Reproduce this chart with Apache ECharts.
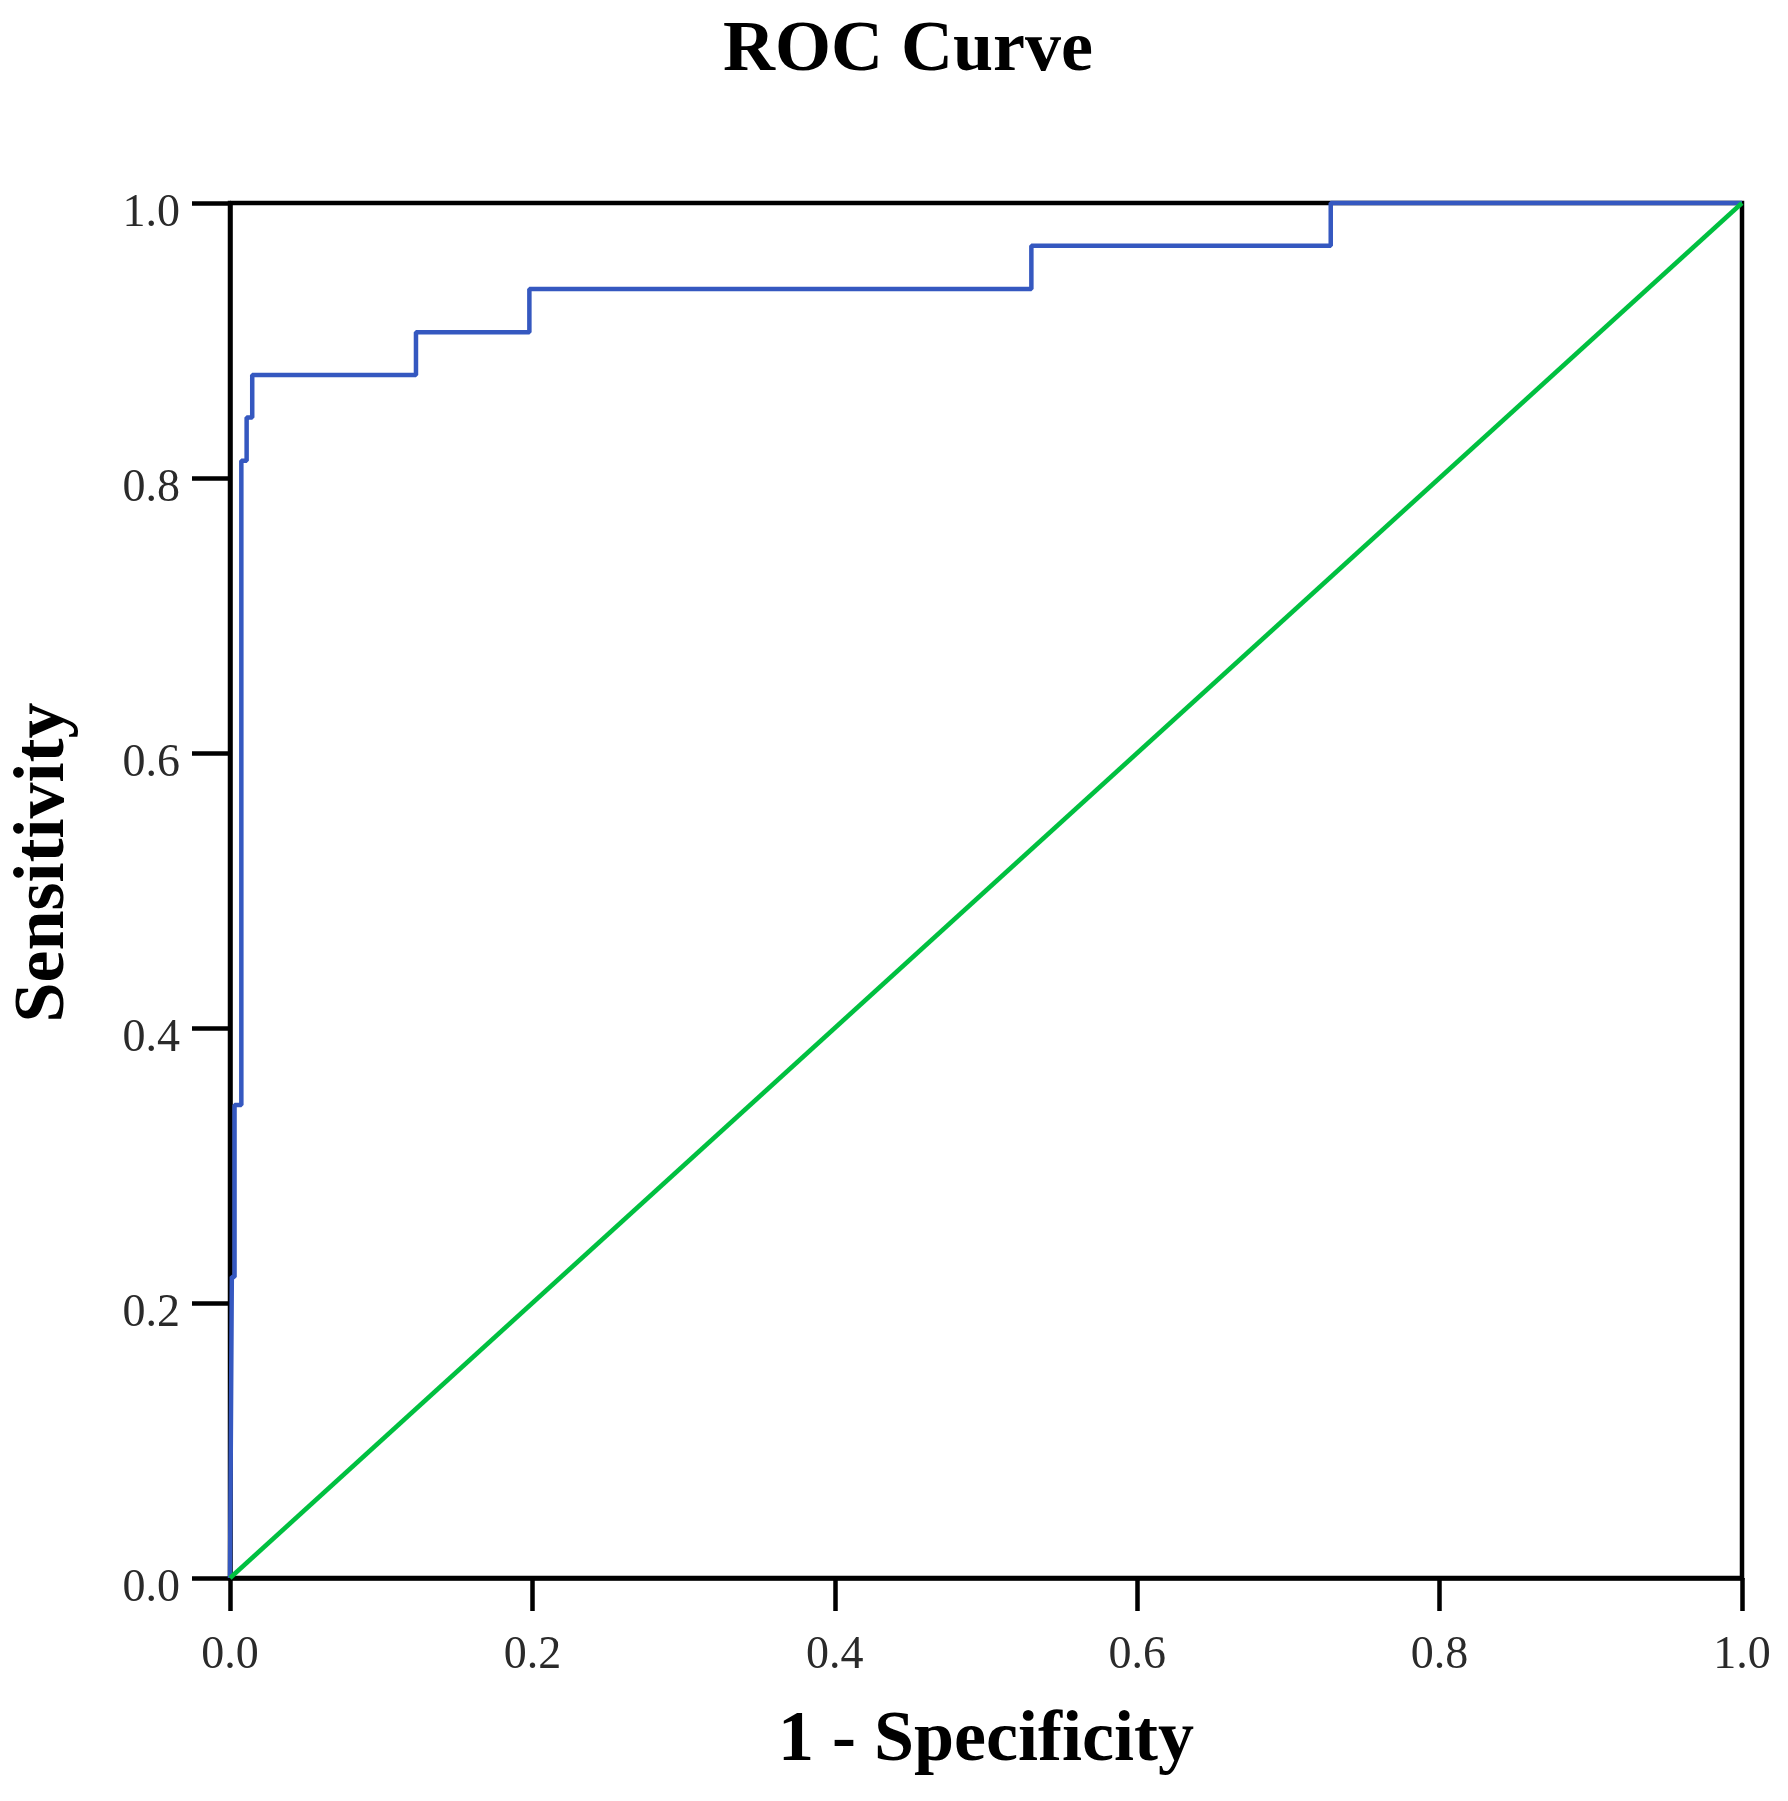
<!DOCTYPE html>
<html>
<head>
<meta charset="utf-8">
<script src="https://cdn.jsdelivr.net/npm/echarts@6/dist/echarts.min.js"></script>
<style>
html,body{margin:0;padding:0;background:#fff;}
#chart{width:1788px;height:1801px;}
</style>
</head>
<body>
<div id="chart"></div>
<script>
// ROC curve points (1 - specificity, sensitivity)
const fprValues = [0, 0.0012, 0.0012, 0.003, 0.003, 0.0075, 0.0075, 0.011, 0.011, 0.0147, 0.0147, 0.123, 0.123, 0.198, 0.198, 0.53, 0.53, 0.728, 0.728, 1.0];
const tprValues = [0, 0, 0.219, 0.219, 0.344, 0.344, 0.8125, 0.8125, 0.844, 0.844, 0.875, 0.875, 0.906, 0.906, 0.9375, 0.9375, 0.969, 0.969, 1.0, 1.0];
// Reference (chance) line
const refX = [0, 1];
const refY = [0, 1];
const tickLabels = ['0.0', '0.2', '0.4', '0.6', '0.8', '1.0'];

const rocData = fprValues.map((x, i) => [x, tprValues[i]]);
const refData = refX.map((x, i) => [x, refY[i]]);
const fmt = v => v.toFixed(1);

const chart = echarts.init(document.getElementById('chart'), null, {renderer: 'canvas'});
const serif = '"Liberation Serif", "Times New Roman", serif';
chart.setOption({
  animation: false,
  backgroundColor: '#ffffff',
  title: {
    text: 'ROC Curve',
    left: 718,
    top: 10,
    textStyle: {fontFamily: serif, fontWeight: 'bold', fontSize: 72, color: '#000', lineHeight: 72}
  },
  grid: {
    left: 227, right: 46, top: 203, bottom: 223,
    show: true, borderColor: '#000', borderWidth: 4.5, backgroundColor: 'transparent'
  },
  xAxis: {
    type: 'value', min: 0, max: 1, interval: 0.2,
    name: '1 - Specificity', nameLocation: 'middle', nameGap: 127,
    nameTextStyle: {fontFamily: serif, fontWeight: 'bold', fontSize: 72, color: '#000', lineHeight: 72},
    axisLine: {show: true, lineStyle: {color: '#000', width: 4.5}},
    axisTick: {show: true, inside: false, length: 33, lineStyle: {color: '#000', width: 4.5}},
    axisLabel: {show: true, margin: 55, fontFamily: serif, fontSize: 46, color: '#2a2a2a', formatter: fmt},
    splitLine: {show: false}
  },
  yAxis: {
    type: 'value', min: 0, max: 1, interval: 0.2,
    name: 'Sensitivity', nameLocation: 'middle', nameGap: 150,
    nameTextStyle: {fontFamily: serif, fontWeight: 'bold', fontSize: 72, color: '#000', lineHeight: 72, padding: [0, 0, 0, 56]},
    axisLine: {show: true, lineStyle: {color: '#000', width: 4.5}},
    axisTick: {show: true, inside: false, length: 38, lineStyle: {color: '#000', width: 4.5}},
    axisLabel: {show: true, margin: 50, fontFamily: serif, fontSize: 46, color: '#2a2a2a', formatter: fmt, verticalAlign: 'top', lineHeight: 22},
    splitLine: {show: false}
  },
  series: [
    {
      type: 'line', data: rocData, symbol: 'none', clip: false,
      lineStyle: {color: '#3558c0', width: 4.5}, z: 3
    },
    {
      type: 'line', data: refData, symbol: 'none', clip: false,
      lineStyle: {color: '#00c040', width: 4.5}, z: 4
    }
  ]
});
</script>
</body>
</html>
